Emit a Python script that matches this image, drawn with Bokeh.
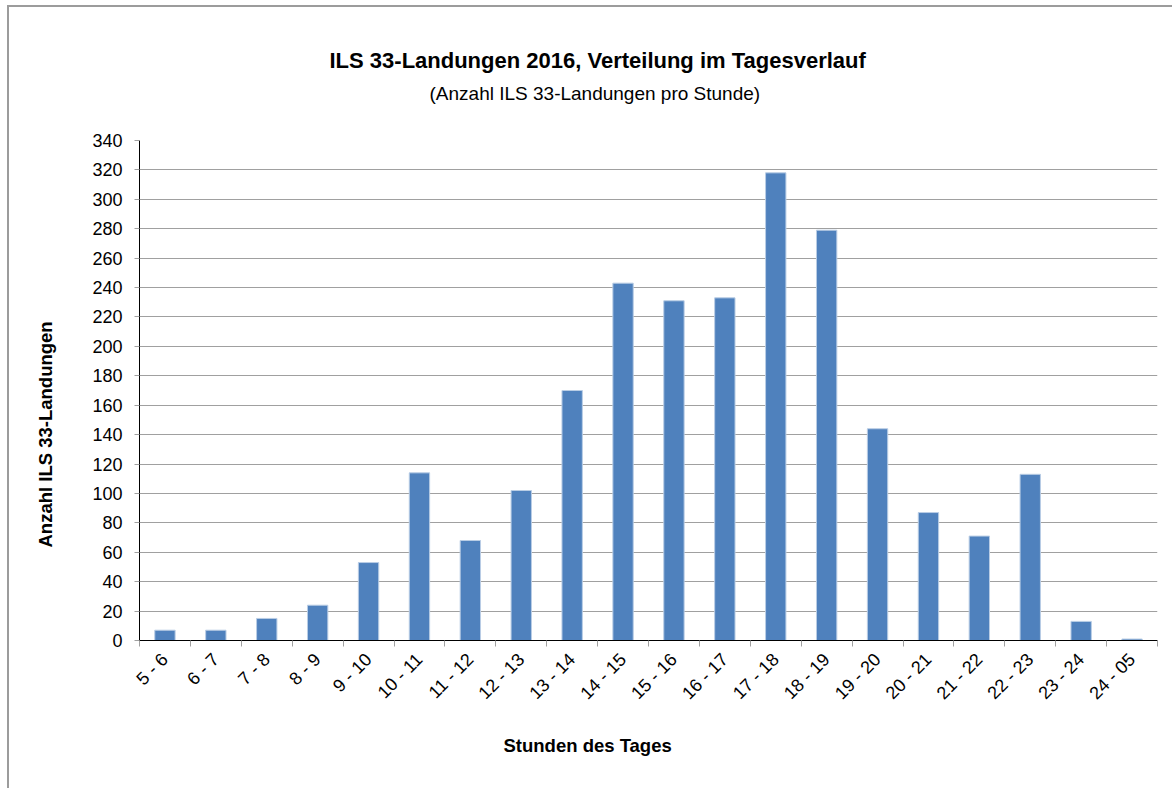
import math
from bokeh.plotting import figure
from bokeh.models import Range1d, FixedTicker, Title, ColumnDataSource
from bokeh.embed import file_html
from bokeh.resources import INLINE

# ---------------- data ----------------
categories = ["5 - 6", "6 - 7", "7 - 8", "8 - 9", "9 - 10", "10 - 11", "11 - 12",
              "12 - 13", "13 - 14", "14 - 15", "15 - 16", "16 - 17", "17 - 18",
              "18 - 19", "19 - 20", "20 - 21", "21 - 22", "22 - 23", "23 - 24",
              "24 - 05"]
landings = [7, 7, 15, 24, 53, 114, 68, 102, 170, 243, 231, 233, 318, 279, 144,
            87, 71, 113, 13, 1]
y_ticks = list(range(0, 341, 20))

title_text = "ILS 33-Landungen 2016, Verteilung im Tagesverlauf"
subtitle_text = "(Anzahl ILS 33-Landungen pro Stunde)"
x_label_text = "Stunden des Tages"
y_label_text = "Anzahl ILS 33-Landungen"

FONT = "Liberation Sans"

n = len(categories)
centers = [i + 0.5 for i in range(n)]      # category slot centres
edges = list(range(n + 1))                 # category slot boundaries

src = ColumnDataSource(data=dict(x=centers, cat=categories, val=landings))

p = figure(x_range=Range1d(0, n), y_range=Range1d(y_ticks[0], y_ticks[-1]),
           width=1165, height=783, output_backend="svg", toolbar_location=None,
           min_border_left=130, min_border_right=17, min_border_top=133,
           min_border_bottom=150)
p.title = None
p.styles = {"margin-left": "7px", "margin-top": "5px",
            "border-left": "2px solid #9c9c9c", "border-top": "2px solid #9c9c9c"}
p.outline_line_color = None
p.background_fill_color = "white"
p.border_fill_color = "white"

p.vbar(x="x", top="val", width=0.4, source=src, fill_color="#4F81BD",
       line_color="#B9CDE5", line_width=1)

# grid
p.xgrid.grid_line_color = None
p.ygrid.grid_line_color = "#A0A0A0"
p.ygrid.grid_line_width = 1

# y axis
ya = p.yaxis[0]
ya.ticker = FixedTicker(ticks=y_ticks)
ya.axis_line_color = "black"
ya.major_tick_in = 0
ya.major_tick_out = 5
ya.major_tick_line_color = "#A0A0A0"
ya.minor_tick_line_color = None
ya.major_label_text_font = FONT
ya.major_label_text_font_size = "18px"
ya.major_label_text_color = "black"
ya.major_label_standoff = 12

# x axis: labels at slot centres, tick marks at slot boundaries
xa = p.xaxis[0]
xa.ticker = FixedTicker(ticks=centers, minor_ticks=edges)
xa.major_label_overrides = {c: lab for c, lab in zip(centers, categories)}
xa.major_tick_line_color = None
xa.major_tick_in = 0
xa.major_tick_out = 6
xa.minor_tick_line_color = "#A0A0A0"
xa.minor_tick_in = 0
xa.minor_tick_out = 6
xa.axis_line_color = "black"
xa.major_label_orientation = math.pi / 4
xa.major_label_text_font = FONT
xa.major_label_text_font_size = "18px"
xa.major_label_text_color = "black"
xa.major_label_standoff = 10

# ---------------- texts (titles in side panels) ----------------
top_spacer = Title(text=" ", text_font_size="10px", standoff=24)
subtitle = Title(text=subtitle_text, text_font=FONT, text_font_size="19px",
                 text_font_style="normal", text_color="black", align="left",
                 offset=290, vertical_align="bottom", standoff=0)
main_title = Title(text=title_text, text_font=FONT, text_font_size="22px",
                   text_font_style="bold", text_color="black", align="left",
                   offset=190, vertical_align="bottom", standoff=16)
p.add_layout(top_spacer, "above")
p.add_layout(subtitle, "above")
p.add_layout(main_title, "above")

x_title = Title(text=x_label_text, text_font=FONT, text_font_size="18.5px",
                text_font_style="bold", text_color="black", align="left",
                offset=364, vertical_align="top", standoff=42)
p.add_layout(x_title, "below")

left_spacer = Title(text=" ", text_font_size="10px", standoff=21)
y_title = Title(text=y_label_text, text_font=FONT, text_font_size="18.5px",
                text_font_style="bold", text_color="black", align="left",
                offset=93, vertical_align="bottom", standoff=0)
p.add_layout(left_spacer, "left")
p.add_layout(y_title, "left")

open("out.html", "w").write(file_html(p, INLINE))
